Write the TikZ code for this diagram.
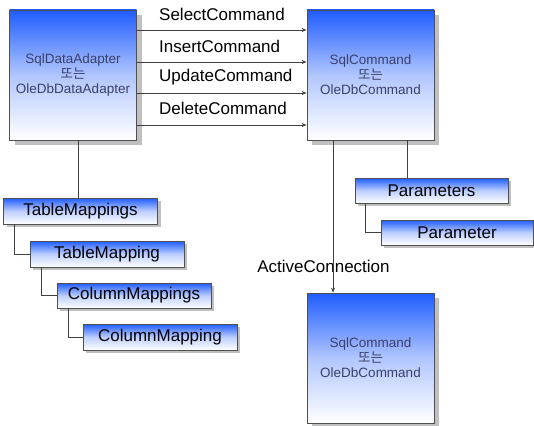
\documentclass[tikz,border=0pt]{standalone}
\usepackage{fontspec}
\setmainfont{Liberation Sans}
\newfontfamily\kr{Noto Sans CJK KR}
\usetikzlibrary{shadows,arrows.meta}
\definecolor{topblue}{HTML}{1F5CFF}
\definecolor{boxtext}{HTML}{3A4068}
\definecolor{edge}{HTML}{505050}
\definecolor{shade}{HTML}{C0C0C0}
\tikzset{
  bigbox/.style={draw=edge, line width=0.8pt, inner sep=0pt,
    minimum width=127pt, minimum height=130pt,
    top color=topblue, bottom color=white, middle color=topblue!35!white,
    drop shadow={shadow xshift=5pt, shadow yshift=-5pt, fill=shade, opacity=1},
    align=center, text=boxtext, font=\fontsize{13.5}{15}\selectfont},
  smallbox/.style={draw=edge, line width=0.8pt, inner sep=0pt,
    minimum width=154pt, minimum height=26pt,
    top color=topblue, bottom color=white, middle color=topblue!30!white,
    drop shadow={shadow xshift=3pt, shadow yshift=-3pt, fill=shade, opacity=1},
    font=\fontsize{17}{19}\selectfont},
  lbl/.style={font=\fontsize{17}{19}\selectfont, inner sep=0pt},
  conn/.style={draw=black!75, line width=0.7pt},
  arr/.style={conn, -{Stealth[length=5pt,width=4pt]}},
}
\begin{document}
\begin{tikzpicture}[x=1pt,y=-1pt]
\useasboundingbox (0,0) rectangle (534,425);
\clip (0,0) rectangle (534,425);
\node[bigbox] (da) at (73,75) {SqlDataAdapter\\{\kr 또는}\\OleDbDataAdapter};
\node[bigbox] (cmd) at (370.5,75) {SqlCommand\\{\kr 또는}\\OleDbCommand};
\node[bigbox] (conn) at (370.5,358) {SqlCommand\\{\kr 또는}\\OleDbCommand};

\node[smallbox] (tms) at (80.5,211) {TableMappings};
\node[smallbox] (tm) at (107,254) {TableMapping};
\node[smallbox, minimum height=25pt] (cms) at (134,295.5) {ColumnMappings};
\node[smallbox] (cm) at (160,337) {ColumnMapping};
\node[smallbox, minimum width=153pt, minimum height=25pt] (ps) at (431.5,190.5) {Parameters};
\node[smallbox, minimum width=152pt, minimum height=25pt] (p) at (457,232.5) {Parameter};

\node[lbl, anchor=west] (l1) at (159,14) {SelectCommand};
\node[lbl, anchor=west] (l2) at (159,46) {InsertCommand};
\node[lbl, anchor=west] (l3) at (159,77) {UpdateCommand};
\node[lbl, anchor=west] (l4) at (159,108) {DeleteCommand};
\node[lbl] (ac) at (323.5,266) {ActiveConnection};

\draw[arr] (da.east |- 0,30) -- (cmd.west |- 0,30);
\draw[arr] (da.east |- 0,62) -- (cmd.west |- 0,62);
\draw[arr] (da.east |- 0,93) -- (cmd.west |- 0,93);
\draw[arr] (da.east |- 0,125) -- (cmd.west |- 0,125);

\draw[arr] (cmd.south -| 333,0) -- (conn.north -| 333,0);
\draw[conn] (cmd.south -| 407,0) -- (ps.north -| 407,0);
\draw[conn] (ps.south -| 365,0) |- (p.west);

\draw[conn] (da.south -| 78,0) -- (tms.north -| 78,0);
\draw[conn] (tms.south -| 14,0) |- (tm.west);
\draw[conn] (tm.south -| 41,0) |- (cms.west);
\draw[conn] (cms.south -| 68,0) |- (cm.west);
\end{tikzpicture}
\end{document}
